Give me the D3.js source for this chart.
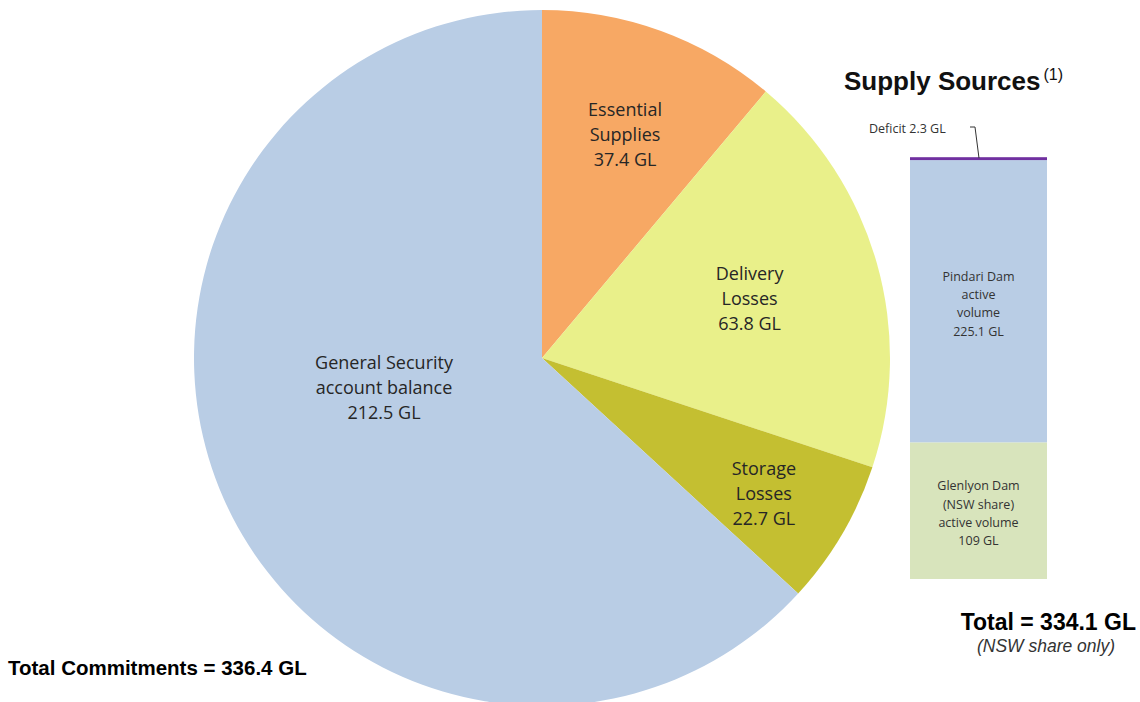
<!DOCTYPE HTML>
<html lang="en">
<head>
<meta charset="UTF-8">
<title>Commitments and supply sources</title>
<style>
  body { margin: 0; background: #fff; }
  svg { display: block; }
</style>
</head>
<body>
<svg id="viz" width="1140" height="702"></svg>
<script src="https://cdn.jsdelivr.net/npm/d3@7/dist/d3.min.js"></script>
<script>
// commitments (pie), clockwise from 12 o'clock
const commitNames = ["Essential Supplies", "Delivery Losses", "Storage Losses", "General Security account balance"];
const commitValues = [37.4, 63.8, 22.7, 212.5];
const commitLabels = [
  ["Essential", "Supplies", "37.4 GL"],
  ["Delivery", "Losses", "63.8 GL"],
  ["Storage", "Losses", "22.7 GL"],
  ["General Security", "account balance", "212.5 GL"]
];
const commitColors = ["#f7a864", "#e9f08a", "#c4bf31", "#b9cde5"];

// supply sources (stacked bar), bottom to top
const sourceNames = ["Glenlyon Dam", "Pindari Dam", "Deficit"];
const sourceValues = [109, 225.1, 2.3];
const sourceLabels = [
  ["Glenlyon Dam", "(NSW share)", "active volume", "109 GL"],
  ["Pindari Dam", "active", "volume", "225.1 GL"],
  []
];
const sourceColors = ["#d8e4bc", "#b9cde5", "#7030a0"];

const svg = d3.select("#viz");
const labelFont = "'Open Sans', 'Noto Sans', sans-serif";
const boldFont = "'Liberation Sans', Arial, sans-serif";

// ---- pie ----
const cx = 542, cy = 358, r = 348;
const pie = d3.pie().sort(null).value(d => d)(commitValues);
const arc = d3.arc().innerRadius(0).outerRadius(r);

const gPie = svg.append("g").attr("transform", `translate(${cx},${cy})`);
gPie.selectAll("path")
  .data(pie)
  .join("path")
    .attr("d", arc)
    .attr("fill", (d, i) => commitColors[i]);

// label placement: fraction of radius and angle nudge (deg) from slice middle
const labelRadius = [0.684, 0.62, 0.748, 0.462];
const labelTurn = [0.4, 0, 1.1, 13];
gPie.selectAll(".plabel")
  .data(pie)
  .join("text")
    .attr("class", "plabel")
    .attr("transform", (d, i) => {
      const a = (d.startAngle + d.endAngle) / 2 + labelTurn[i] * Math.PI / 180;
      const rr = r * labelRadius[i];
      return `translate(${Math.sin(a) * rr},${-Math.cos(a) * rr})`;
    })
    .attr("text-anchor", "middle")
    .attr("font-family", labelFont)
    .attr("font-size", 18)
    .attr("fill", "#262626")
    .selectAll("tspan")
    .data((d, i) => commitLabels[i].map((t, k, arr) => ({t, k, n: arr.length})))
    .join("tspan")
      .attr("x", 0)
      .attr("y", d => (d.k - (d.n - 1) / 2) * 25 + 6)
      .text(d => d.t);

svg.append("text")
  .attr("x", 8).attr("y", 675)
  .attr("font-family", boldFont)
  .attr("font-weight", "bold")
  .attr("font-size", 20.5)
  .text("Total Commitments = 336.4 GL");

// ---- stacked bar ----
const barX = 910, barW = 137;
const y = d3.scaleLinear().domain([0, 336.4]).range([579, 157.2]);
let acc = 0;
const stack = sourceValues.map((v, i) => {
  const o = {name: sourceNames[i], value: v, y0: acc, y1: acc + v, i};
  acc += v;
  return o;
});

const gBar = svg.append("g");
gBar.selectAll("rect")
  .data(stack)
  .join("rect")
    .attr("x", barX)
    .attr("width", barW)
    .attr("y", d => y(d.y1))
    .attr("height", d => y(d.y0) - y(d.y1))
    .attr("fill", d => sourceColors[d.i]);

gBar.selectAll(".blabel")
  .data(stack.filter(d => sourceLabels[d.i].length))
  .join("text")
    .attr("class", "blabel")
    .attr("text-anchor", "middle")
    .attr("font-family", labelFont)
    .attr("font-size", 12.5)
    .attr("fill", "#333")
    .attr("transform", d => `translate(${barX + barW / 2},${(y(d.y0) + y(d.y1)) / 2})`)
    .selectAll("tspan")
    .data(d => sourceLabels[d.i].map((t, k, arr) => ({t, k, n: arr.length})))
    .join("tspan")
      .attr("x", 0)
      .attr("y", d => (d.k - (d.n - 1) / 2) * 18.3 + 7)
      .text(d => d.t);

// deficit call-out
const deficit = stack[2];
svg.append("text")
  .attr("x", 869).attr("y", 133)
  .attr("font-family", labelFont)
  .attr("font-size", 12.5)
  .attr("fill", "#333")
  .text(`Deficit ${deficit.value} GL`);
svg.append("path")
  .attr("d", `M970,127 L975,127 L979,${y(deficit.y1) + 1}`)
  .attr("fill", "none")
  .attr("stroke", "#333")
  .attr("stroke-width", 1);

// title
const title = svg.append("text")
  .attr("x", 844).attr("y", 90)
  .attr("font-family", boldFont)
  .attr("font-weight", "bold")
  .attr("font-size", 26)
  .attr("fill", "#111");
title.append("tspan").text("Supply Sources");
title.append("tspan")
  .attr("font-size", 16).attr("font-weight", "normal")
  .attr("dy", -10).attr("dx", 3)
  .text("(1)");

svg.append("text")
  .attr("x", 1136).attr("y", 630)
  .attr("text-anchor", "end")
  .attr("font-family", boldFont)
  .attr("font-weight", "bold")
  .attr("font-size", 23)
  .text("Total = 334.1 GL");
svg.append("text")
  .attr("x", 1046).attr("y", 652)
  .attr("text-anchor", "middle")
  .attr("font-family", boldFont)
  .attr("font-style", "italic")
  .attr("font-size", 17.5)
  .attr("fill", "#333")
  .text("(NSW share only)");
</script>
</body>
</html>
